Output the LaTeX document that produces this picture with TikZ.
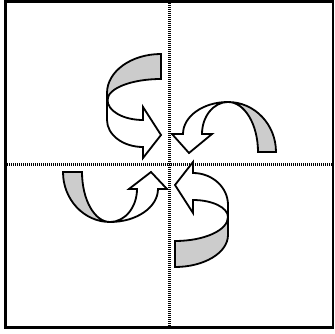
\documentclass[tikz,border=0pt]{standalone}
\begin{document}
\begin{tikzpicture}[x=1pt,y=-1pt,
  band/.style={draw=black, line width=1.8pt, line join=miter},
  grayband/.style={band, fill=gray!40},
  whiteband/.style={band, fill=white},
  divider/.style={line width=3pt, dash pattern=on 1pt off 1pt},
  frame/.style={line width=2.8pt}]
\useasboundingbox (0,0) rectangle (335,334);
% dividers
\draw[divider] (169.5,1) -- (169.5,328);
\draw[divider] (5,164.5) -- (333,164.5);
% frame
\draw[frame] (5.3,1.3) rectangle (333,327.7);
% arrow 1 (top left)
\draw[whiteband] (107.5,100) arc[start angle=180, end angle=90, x radius=35.5, y radius=20]
  -- (143,107) -- (161,135) -- (143,158) -- (143,147)
  arc[start angle=90, end angle=180, x radius=36, y radius=27] -- (107,93) -- cycle;
\draw[grayband] (161,54) -- (161,79) arc[start angle=-90, end angle=-180, x radius=53.5, y radius=21]
  -- (107,93) arc[start angle=180, end angle=270, x radius=54, y radius=39] -- cycle;
% arrow 2 (top right)
\draw[grayband] (228,102) arc[start angle=-90, end angle=0, x radius=48, y radius=50]
  -- (258,152) arc[start angle=0, end angle=-90, x radius=30, y radius=50] -- cycle;
\draw[whiteband] (228,102) arc[start angle=-90, end angle=-180, x radius=45, y radius=32]
  -- (172,134) -- (189,153) -- (212,134) -- (202,134)
  arc[start angle=180, end angle=270, x radius=26, y radius=32] -- cycle;
% arrow 3 (bottom left)
\draw[grayband] (63,172) -- (82,172) arc[start angle=180, end angle=90, x radius=28, y radius=50]
  arc[start angle=90, end angle=180, x radius=47, y radius=50] -- cycle;
\draw[whiteband] (110,222) arc[start angle=90, end angle=0, x radius=48, y radius=33]
  -- (167,189) -- (151,172) -- (129,189) -- (137,189)
  arc[start angle=0, end angle=90, x radius=27, y radius=33] -- cycle;
% arrow 4 (bottom right)
\draw[grayband] (175,241) -- (175,267) arc[start angle=90, end angle=0, x radius=53, y radius=32]
  -- (228,217) arc[start angle=0, end angle=90, x radius=53, y radius=24] -- cycle;
\draw[whiteband] (228,217) -- (228,205) arc[start angle=0, end angle=-90, x radius=35, y radius=32]
  -- (193,162) -- (175,185) -- (193,213) -- (193,200)
  arc[start angle=-90, end angle=0, x radius=35, y radius=17] -- cycle;
\end{tikzpicture}
\end{document}
